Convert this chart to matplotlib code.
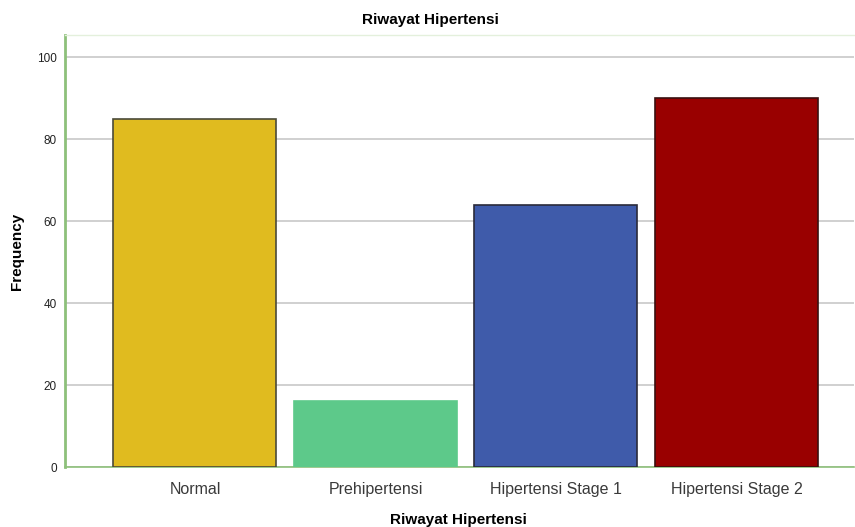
import matplotlib
matplotlib.use("Agg")
import matplotlib.pyplot as plt

categories = ["Normal", "Prehipertensi", "Hipertensi Stage 1", "Hipertensi Stage 2"]
frequency = [85, 16, 64, 90]
colors = ["#E0BB1F", "#5DC98A", "#3F5BAA", "#990000"]
edgecolors = ["#4a4a3a", "#5DC98A", "#2a2a3a", "#3a1010"]
yticks = [0, 20, 40, 60, 80, 100]

plt.rcParams['font.family'] = ['Liberation Sans', 'DejaVu Sans']

fig = plt.figure(figsize=(8.55, 5.27), dpi=100)
ax = fig.add_axes([65/855, 1 - 467/527, (854-65)/855, (467-35)/527])

x = list(range(len(categories)))
ax.bar(x, frequency, width=0.903, color=colors, edgecolor=edgecolors, linewidth=1.2, zorder=3)

ax.set_xlim(-0.72, 3.0 + (854-736.5)/180.5)
ax.set_ylim(0, 105.4)
ax.set_yticks(yticks)
ax.set_yticklabels([str(v) for v in yticks], fontsize=8.5, color="#222222")
ax.set_xticks(x)
ax.set_xticklabels(categories, fontsize=11.5, color="#3a3a3a")
ax.tick_params(axis='x', length=0, pad=11)
ax.tick_params(axis='y', length=0, pad=6)

ax.grid(axis='y', color="#c8c8c8", linewidth=1.2, zorder=0)
ax.set_axisbelow(True)

ax.spines["right"].set_visible(False)
ax.spines["top"].set_color("#e4f0dc")
ax.spines["top"].set_linewidth(1)
ax.spines["left"].set_color("#8DC07A")
ax.spines["left"].set_linewidth(2)
ax.spines["bottom"].set_color("#8DC07A")
ax.spines["bottom"].set_linewidth(1.2)

fig.text(430/855, 1 - 20/527, "Riwayat Hipertensi", ha="center", va="center", fontsize=11, fontweight="bold")
fig.text(17/855, 1 - 251/527, "Frequency", ha="center", va="center", rotation=90, fontsize=11, fontweight="bold")
fig.text(458/855, 1 - 520/527, "Riwayat Hipertensi", ha="center", va="center", fontsize=11, fontweight="bold")

fig.savefig("out.png", dpi=100)
